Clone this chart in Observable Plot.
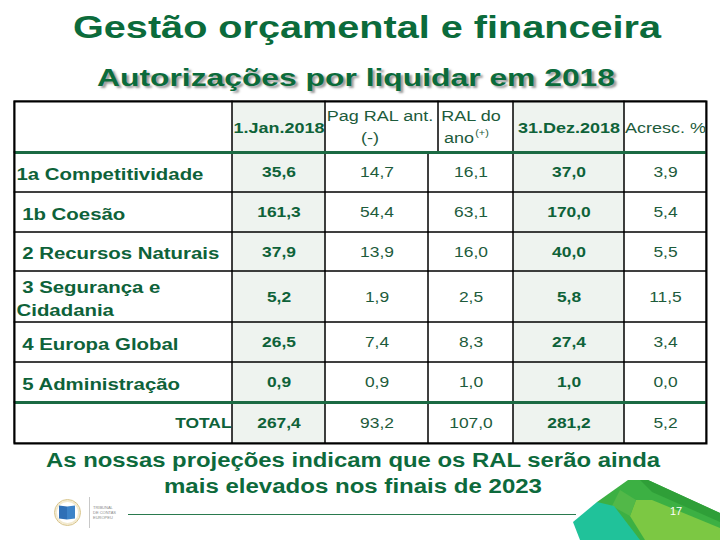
<!DOCTYPE html>
<html><head><meta charset="utf-8">
<script src="https://cdn.jsdelivr.net/npm/d3@7"></script>
<script src="https://cdn.jsdelivr.net/npm/@observablehq/plot@0.6"></script>
<style>
html,body{margin:0;padding:0;background:#fff;}
body{width:720px;height:540px;position:relative;overflow:hidden;font-family:"Liberation Sans",Arial,sans-serif;}
.fit{position:absolute;white-space:nowrap;line-height:1;font-weight:bold;color:#0b6b3b;transform-origin:0 0;}
#title{font-size:32px;top:11px;}
#subtitle{font-size:24px;top:66px;text-shadow:2px 2px 2px #9a9a9a;}
.cap{font-size:20px;color:#0d6a3c;}
#cap1{top:450px;}
#cap2{top:476px;}
#table{position:absolute;left:0;top:95px;}
#table svg text{white-space:pre;}
.deco{position:absolute;}
</style>
</head><body>
<div id="title" class="fit">Gestão orçamental e financeira</div>
<div id="subtitle" class="fit">Autorizações por liquidar em 2018</div>
<div id="table"></div>
<div id="cap1" class="fit cap">As nossas projeções indicam que os RAL serão ainda</div>
<div id="cap2" class="fit cap">mais elevados nos finais de 2023</div>

<!-- footer decoration -->
<div class="deco" style="left:128px;top:514px;width:448px;height:1px;background:#2a7a4e;"></div>
<div class="deco" style="left:54px;top:499px;width:25px;height:25px;border-radius:50%;border:1px solid #d8c48a;box-shadow:inset 0 0 0 2px #f3ead0;"></div>
<div class="deco" style="left:59px;top:506px;width:8px;height:13px;background:#2f6fb6;transform:skewY(8deg);"></div>
<div class="deco" style="left:67px;top:506px;width:8px;height:13px;background:#3d83c8;transform:skewY(-8deg);"></div>
<div class="deco" style="left:89px;top:497px;width:1px;height:31px;background:#c8c8c8;"></div>
<div class="deco" style="left:93px;top:505px;font-size:4px;line-height:5px;color:#8a8a8a;">TRIBUNAL<br>DE CONTAS<br>EUROPEU</div>
<div class="deco" style="left:0;top:0;width:720px;height:540px;background:#3cb043;clip-path:polygon(597px 502px,628px 480px,648px 480px,720px 513px,720px 540px,600px 540px);"></div>
<div class="deco" style="left:0;top:0;width:720px;height:540px;background:#2f9f38;clip-path:polygon(640px 480px,648px 480px,720px 513px,720px 522px,652px 492px);"></div>
<div class="deco" style="left:0;top:0;width:720px;height:540px;background:#7cc843;clip-path:polygon(636px 500px,652px 500px,720px 528px,720px 540px,645px 540px,630px 516px);"></div>
<div class="deco" style="left:0;top:0;width:720px;height:540px;background:#52b848;clip-path:polygon(620px 490px,636px 500px,630px 516px,612px 506px);"></div>
<div class="deco" style="left:0;top:0;width:720px;height:540px;background:#20c29a;clip-path:polygon(573px 522px,597px 502px,614px 506px,640px 540px,580px 540px);"></div>
<div class="deco" style="left:670px;top:506px;font-size:11px;line-height:11px;color:#ffffff;">17</div>

<script>
// ---- data ----
const categories = ["1a Competitividade", " 1b Coesão", " 2 Recursos Naturais", " 3 Segurança e\nCidadania", " 4 Europa Global", " 5 Administração", "TOTAL"];
const jan2018   = [35.6, 161.3, 37.9, 5.2, 26.5, 0.9, 267.4];
const pagRalAnt = [14.7, 54.4, 13.9, 1.9, 7.4, 0.9, 93.2];
const ralDoAno  = [16.1, 63.1, 16.0, 2.5, 8.3, 1.0, 107.0];
const dez2018   = [37.0, 170.0, 40.0, 5.8, 27.4, 1.0, 281.2];
const acresc    = [3.9, 5.4, 5.5, 11.5, 3.4, 0.0, 5.2];
const headerLabels = ["1.Jan.2018", "Pag RAL ant.", "(-)", "RAL do", "ano", "(+)", "31.Dez.2018", "Acresc. %"];

// ---- layout ----
const colWidths = [218, 93, 103, 85, 111, 82];
const headerColWidths = [218, 93, 113, 75, 111, 82];
const rowHeights = [51, 40, 40, 39, 51, 40, 40, 41];
const colEdges = [0, ...d3.cumsum(colWidths)];
const headerEdges = [0, ...d3.cumsum(headerColWidths)];
const rowEdges = [0, ...d3.cumsum(rowHeights)];
const W = colEdges[colEdges.length - 1], H = rowEdges[rowEdges.length - 1];
const colMid = c => (colEdges[c] + colEdges[c + 1]) / 2;
const rowMid = r => (rowEdges[r] + rowEdges[r + 1]) / 2;
const green = "#0e6239", green2 = "#1d5b3b";

const cells = [];
for (let r = 0; r < rowHeights.length; r++) {
  const e = r === 0 ? headerEdges : colEdges;
  for (let c = 0; c < colWidths.length; c++)
    cells.push({x1: e[c], x2: e[c + 1], y1: rowEdges[r], y2: rowEdges[r + 1], shaded: c === 1 || c === 4});
}

const series = [jan2018, pagRalAnt, ralDoAno, dez2018, acresc];
const fmt = v => d3.format(".1f")(v).replace(".", ",");
const values = [];
categories.forEach((cat, i) => series.forEach((s, j) =>
  values.push({x: colMid(j + 1), y: rowMid(i + 1), text: fmt(s[i]), bold: j === 0 || j === 3})));

const labels = categories.slice(0, -1).map((t, i) => ({x: colEdges[0], y: rowMid(i + 1), text: t}));
const totalLabel = [{x: colEdges[1], y: rowMid(categories.length), text: categories[categories.length - 1]}];

const hTop = rowMid(0) - 11, hBot = rowMid(0) + 11, hMid = rowMid(0) + 1;
const header = [
  {text: headerLabels[0], x: colMid(1), y: hMid, bold: true, size: 15},
  {text: headerLabels[1], x: colMid(2) + 3, y: hTop, size: 15},
  {text: headerLabels[2], x: colMid(2) - 7, y: hBot, size: 15},
  {text: headerLabels[3], x: colMid(3), y: hTop, size: 15},
  {text: headerLabels[4], x: colMid(3) - 12, y: hBot, size: 15},
  {text: headerLabels[5], x: colMid(3) + 11, y: hBot - 5, size: 9},
  {text: headerLabels[6], x: colMid(4), y: hMid, bold: true, size: 15},
  {text: headerLabels[7], x: colMid(5), y: hMid, size: 15}
];

const svg = Plot.plot({
  width: 720, height: 355,
  marginTop: 6, marginLeft: 14, marginRight: 14, marginBottom: 7,
  x: {type: "linear", domain: [0, W], range: [14, 706], axis: null},
  y: {type: "linear", domain: [0, H], range: [6, 348], axis: null},
  style: {fontFamily: "'Liberation Sans', Arial, sans-serif", background: "transparent", overflow: "visible"},
  marks: [
    Plot.rect(cells.filter(d => d.shaded), {x1: "x1", x2: "x2", y1: "y1", y2: "y2", fill: "#eef3ef"}),
    Plot.rect(cells, {x1: "x1", x2: "x2", y1: "y1", y2: "y2", fill: "none", stroke: "#000", strokeWidth: 1}),
    Plot.ruleY([rowEdges[1], rowEdges[rowEdges.length - 2]], {x1: 0, x2: W, stroke: "#1b6a43", strokeWidth: 3}),
    Plot.frame({stroke: "#000", strokeWidth: 2}),
    Plot.text(header.filter(d => d.bold), {x: "x", y: "y", text: "text", fontSize: 15, fontWeight: "bold", fill: green}),
    Plot.text(header.filter(d => !d.bold), {x: "x", y: "y", text: "text", fontSize: "size", fill: green2}),
    Plot.text(labels, {x: "x", y: "y", text: "text", dx: 2, textAnchor: "start", fontSize: 17, fontWeight: "bold", lineHeight: 1.35, fill: green}),
    Plot.text(totalLabel, {x: "x", y: "y", text: "text", dx: -1, textAnchor: "end", fontSize: 14.5, fontWeight: "bold", fill: green}),
    Plot.text(values.filter(d => d.bold), {x: "x", y: "y", text: "text", fontSize: 14.5, fontWeight: "bold", fill: green}),
    Plot.text(values.filter(d => !d.bold), {x: "x", y: "y", text: "text", fontSize: 14.5, fill: green2})
  ]
});
// horizontally stretched lettering, as in the slide
d3.select(svg).selectAll("text").each(function() {
  const t = this.getAttribute("transform") || "";
  this.setAttribute("transform", (t + " scale(1.2,1)").trim());
});
document.getElementById("table").appendChild(svg);

function fit(id, x1, x2) {
  const el = document.getElementById(id);
  const w = el.getBoundingClientRect().width;
  el.style.left = x1 + "px";
  el.style.transform = `scaleX(${(x2 - x1) / w})`;
}
fit("title", 73, 661);
fit("subtitle", 97, 615);
fit("cap1", 46, 660);
fit("cap2", 164, 542);
</script>
</body></html>
